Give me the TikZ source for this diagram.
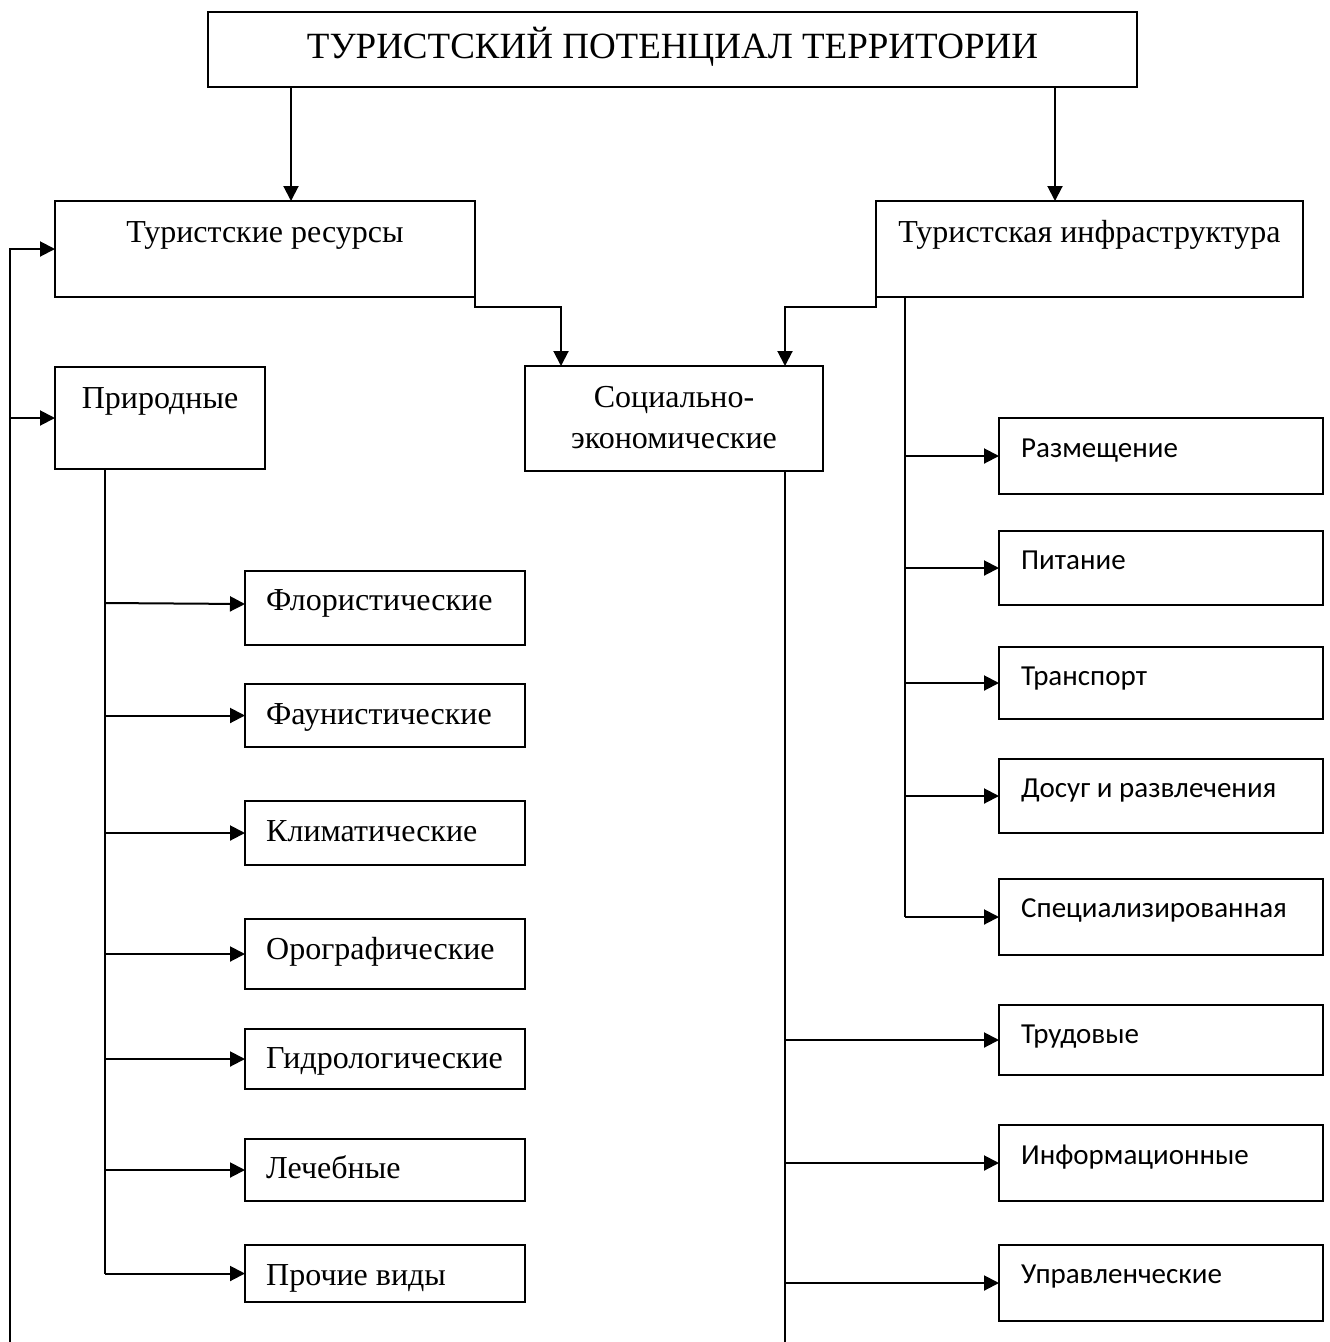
\documentclass[tikz,border=0pt]{standalone}
\usepackage{fontspec}
\setmainfont{Liberation Serif}
\newfontfamily\calfont{Carlito}
\usetikzlibrary{arrows.meta,calc}
\tikzset{
  box/.style={draw, line width=2pt, inner sep=0pt, outer sep=0pt},
  line/.style={line width=2pt},
  arr/.style={line width=2pt, -{Triangle[length=15pt,width=15pt]}},
  ser/.style={inner sep=0pt, font=\fontsize{32}{37}\selectfont},
  sans/.style={inner sep=0pt, font=\calfont\fontsize{29}{34}\selectfont},
  ttl/.style={inner sep=0pt, font=\fontsize{37}{42}\selectfont}
}
\newcommand{\bx}[5]{%
  \pgfmathsetmacro\bxw{#4-#2}\pgfmathsetmacro\bxh{#5-#3}%
  \node[box, minimum width=\bxw pt, minimum height=\bxh pt] (#1) at ({(#2+#4)/2},{(#3+#5)/2}) {};}
\begin{document}
\begin{tikzpicture}[x=1pt,y=-1pt]
\useasboundingbox (0,0) rectangle (1330,1342);
% boxes
\bx{top}{208}{12}{1137}{87}
\bx{tr}{55}{201}{475}{297}
\bx{inf}{876}{201}{1303}{297}
\bx{pr}{55}{367}{265}{469}
\bx{so}{525}{366}{823}{471}
\bx{fl}{245}{571}{525}{645}
\bx{fa}{245}{684}{525}{747}
\bx{kl}{245}{801}{525}{865}
\bx{or}{245}{919}{525}{989}
\bx{gi}{245}{1029}{525}{1089}
\bx{le}{245}{1139}{525}{1201}
\bx{pv}{245}{1245}{525}{1302}
\bx{ra}{999}{418}{1323}{494}
\bx{pi}{999}{531}{1323}{605}
\bx{tp}{999}{647}{1323}{719}
\bx{do}{999}{759}{1323}{833}
\bx{sp}{999}{879}{1323}{955}
\bx{tru}{999}{1005}{1323}{1075}
\bx{im}{999}{1125}{1323}{1201}
\bx{up}{999}{1245}{1323}{1321}
% texts
\node[ttl, anchor=base] (ttop) at (672.5,58) {ТУРИСТСКИЙ ПОТЕНЦИАЛ ТЕРРИТОРИИ};
\node[ser, anchor=base] (ttr) at (265,242) {Туристские ресурсы};
\node[ser, anchor=base] (tinf) at (1089.5,242) {Туристская инфраструктура};
\node[ser, anchor=base] (tpr) at (160,408) {Природные};
\node[ser, anchor=base] (tso1) at (674,407) {Социально-};
\node[ser, anchor=base] (tso2) at (674,448) {экономические};
\node[ser, anchor=base west] (tfl) at (266,610) {Флористические};
\node[ser, anchor=base west] (tfa) at (266,724) {Фаунистические};
\node[ser, anchor=base west] (tkl) at (266,841) {Климатические};
\node[ser, anchor=base west] (tor) at (266,959) {Орографические};
\node[ser, anchor=base west] (tgi) at (266,1068) {Гидрологические};
\node[ser, anchor=base west] (tle) at (266,1178) {Лечебные};
\node[ser, anchor=base west] (tpv) at (266,1285) {Прочие виды};
\node[sans, anchor=base west] (tra) at (1021,457) {Размещение};
\node[sans, anchor=base west] (tpi) at (1021,569) {Питание};
\node[sans, anchor=base west] (ttp) at (1021,685) {Транспорт};
\node[sans, anchor=base west] (tdo) at (1021,797) {Досуг и развлечения};
\node[sans, anchor=base west] (tsp) at (1021,917) {Специализированная};
\node[sans, anchor=base west] (ttru) at (1021,1043) {Трудовые};
\node[sans, anchor=base west] (tim) at (1021,1164) {Информационные};
\node[sans, anchor=base west] (tup) at (1021,1283) {Управленческие};
% junction coordinates
\coordinate (ja) at (291,0);
\coordinate (jb) at (1055,0);
\coordinate (m1) at (561,307);
\coordinate (m2) at (785,307);
\coordinate (vl) at (10,1342);
\coordinate (vp) at (105,0);
\coordinate (vi) at (905,0);
\coordinate (vs) at (785,1342);
% connectors
\draw[arr] (ja |- top.south) -- (ja |- tr.north);
\draw[arr] (jb |- top.south) -- (jb |- inf.north);
\draw[arr] (tr.east) |- (m1) -- (m1 |- so.north);
\draw[arr] (inf.west) |- (m2) -- (m2 |- so.north);
\draw[arr] (vl) |- (tr.west);
\draw[arr] (vl |- pr.west) -- (pr.west);
% natural branch
\draw[line] (vp |- pr.south) -- (vp |- pv.west);
\draw[arr] ([yshift=5pt]vp |- fl.west) -- ([yshift=4pt]fl.west);
\draw[arr] (vp |- fa.west) -- (fa.west);
\draw[arr] (vp |- kl.west) -- (kl.west);
\draw[arr] (vp |- or.west) -- (or.west);
\draw[arr] (vp |- gi.west) -- (gi.west);
\draw[arr] (vp |- le.west) -- (le.west);
\draw[arr] (vp |- pv.west) -- (pv.west);
% infrastructure branch
\draw[line] (vi |- inf.south) -- (vi |- sp.west);
\draw[arr] (vi |- ra.west) -- (ra.west);
\draw[arr] (vi |- pi.west) -- (pi.west);
\draw[arr] (vi |- tp.west) -- (tp.west);
\draw[arr] (vi |- do.west) -- (do.west);
\draw[arr] (vi |- sp.west) -- (sp.west);
% social branch
\draw[line] (vs |- so.south) -- (vs);
\draw[arr] (vs |- tru.west) -- (tru.west);
\draw[arr] (vs |- im.west) -- (im.west);
\draw[arr] (vs |- up.west) -- (up.west);
\end{tikzpicture}
\end{document}
